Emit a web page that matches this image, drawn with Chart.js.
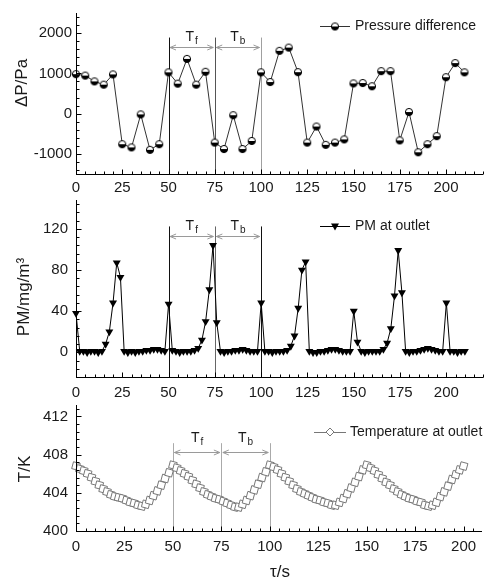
<!DOCTYPE html>
<html>
<head>
<meta charset="utf-8">
<script src="https://cdn.jsdelivr.net/npm/chart.js@4.4.0/dist/chart.umd.min.js"></script>
<style>
  html, body { margin: 0; padding: 0; background: #fff; }
  #wrap { position: relative; width: 488px; height: 584px; }
  canvas { position: absolute; left: 0; top: 0; }
</style>
</head>
<body>
<div id="wrap">
  <canvas id="c1" width="488" height="584"></canvas>
  <canvas id="c2" width="488" height="584"></canvas>
  <canvas id="c3" width="488" height="584"></canvas>
</div>
<script>
// ---- data ----
var pressureTimes = [0,5,10,15,20,25,30,35,40,45,50,55,60,65,70,75,80,85,90,95,100,
  105,110,115,120,125,130,135,140,145,150,155,160,165,170,175,180,185,190,195,200,205,210];
var pressureValues = [980,945,800,720,975,-760,-840,-20,-900,-760,1025,745,1360,720,1040,-720,-880,-40,-880,-680,1025,
  785,1560,1640,1030,-720,-320,-775,-720,-640,750,760,680,1055,1055,-665,40,-960,-760,-560,905,1255,1025];

var pmTimes = [0,2,4,6,8,10,12,14,16,18,20,22,24,26,28,30,32,34,36,38,40,42,44,46,48,50,52,54,56,58,
  60,62,64,66,68,70,72,74,76,78,80,82,84,86,88,90,92,94,96,98,100,102,104,106,108,110,112,114,116,118,
  120,122,124,126,128,130,132,134,136,138,140,142,144,146,148,150,152,154,156,158,160,162,164,166,168,170,
  172,174,176,178,180,182,184,186,188,190,192,194,196,198,200,202,204,206,208,210];
var pmValues = [38,1,1,0,1,1,0,1,8,20,
  48,87,73,1,0,1,0,1,1,2,
  2,3,3,2,1,47,2,1,0,1,
  1,1,2,4,12,30,61,104,29,1,
  0,1,1,2,2,3,2,1,1,1,
  48,1,1,0,1,1,1,2,6,16,
  43,80,88,1,0,0,1,1,2,3,
  3,2,1,1,1,40,10,1,0,1,
  1,1,1,3,9,23,55,99,58,1,
  0,1,1,2,3,4,3,2,1,1,
  48,1,1,0,1,1];

var tempTimes = pmTimes.slice(0, 101);
var tempValues = [406.8,406.5,406.3,406.0,405.6,405.2,404.8,404.4,404.1,403.8,
  403.6,403.5,403.4,403.2,403.0,402.9,402.7,402.6,402.8,403.2,
  403.7,404.2,404.8,405.5,406.1,406.9,406.6,406.3,406.0,405.7,
  405.3,404.9,404.5,404.1,403.8,403.6,403.4,403.3,403.1,402.9,
  402.7,402.5,402.5,402.8,403.2,403.7,404.3,404.9,405.6,406.2,
  406.9,406.7,406.4,406.0,405.6,405.2,404.8,404.4,404.1,403.9,
  403.7,403.5,403.3,403.2,403.0,402.9,402.7,402.7,403.0,403.4,
  403.9,404.5,405.1,405.7,406.4,406.9,406.6,406.3,405.9,405.5,
  405.1,404.8,404.4,404.1,403.8,403.6,403.4,403.3,403.1,403.0,
  402.7,402.6,402.7,403.0,403.6,404.1,404.7,405.4,405.9,406.4,
  406.8];

var xTickValues = [0,25,50,75,100,125,150,175,200];
var pressureTicks = [-1000,0,1000,2000];
var pmTicks = [0,40,80,120];
var tempTicks = [400,404,408,412];
var periodTimes = [50,75,100];
var periodNames = [['T','f'],['T','b']];

var FONT = "'Liberation Sans', Arial, sans-serif";

function pts(xs, ys) {
  return xs.map(function (t, i) { return { x: t, y: ys[i] }; });
}

// half filled circle marker
function halfDot(r) {
  var c = document.createElement('canvas');
  var s = Math.ceil(r * 2 + 2);
  c.width = s; c.height = s;
  var g = c.getContext('2d');
  var m = s / 2;
  g.beginPath(); g.arc(m, m, r, Math.PI, 2 * Math.PI); g.closePath();
  g.fillStyle = '#fff'; g.fill();
  g.beginPath(); g.arc(m, m, r, 0, Math.PI); g.closePath();
  g.fillStyle = '#000'; g.fill();
  g.beginPath(); g.arc(m, m, r, 0, 2 * Math.PI);
  g.strokeStyle = '#000'; g.lineWidth = 1; g.stroke();
  return c;
}
var dot = halfDot(3.6);

function seg(ctx, x1, y1, x2, y2) {
  ctx.beginPath(); ctx.moveTo(x1, y1); ctx.lineTo(x2, y2); ctx.stroke();
}

var decor = {
  id: 'decor',
  beforeDatasetsDraw: function (chart, args, o) {
    var ctx = chart.ctx, xs = chart.scales.x, ys = chart.scales.y, a = chart.chartArea;
    ctx.save();
    ctx.lineWidth = 1;
    periodTimes.forEach(function (t, i) {
      var px = Math.round(xs.getPixelForValue(t)) + 0.5;
      ctx.strokeStyle = o.lineColors[i];
      seg(ctx, px, ys.getPixelForValue(o.lineTop), px, a.bottom);
    });
    var ay = Math.round(ys.getPixelForValue(o.arrowY)) + 0.5;
    var ly = ys.getPixelForValue(o.labelY);
    for (var i = 0; i < periodTimes.length - 1; i++) {
      var x1 = xs.getPixelForValue(periodTimes[i]) + 1.5;
      var x2 = xs.getPixelForValue(periodTimes[i + 1]) - 1.5;
      ctx.strokeStyle = '#9a9a9a';
      seg(ctx, x1, ay, x2, ay);
      ctx.beginPath();
      ctx.moveTo(x1 + 6, ay - 2.5); ctx.lineTo(x1, ay); ctx.lineTo(x1 + 6, ay + 2.5);
      ctx.moveTo(x2 - 6, ay - 2.5); ctx.lineTo(x2, ay); ctx.lineTo(x2 - 6, ay + 2.5);
      ctx.stroke();
      var mid = (x1 + x2) / 2;
      ctx.fillStyle = '#1a1a1a';
      ctx.textBaseline = 'middle';
      ctx.font = '14px ' + FONT;
      var w1 = ctx.measureText(periodNames[i][0]).width;
      ctx.font = '10px ' + FONT;
      var w2 = ctx.measureText(periodNames[i][1]).width;
      var sx = mid - (w1 + w2 + 1) / 2;
      ctx.textAlign = 'left';
      ctx.font = '14px ' + FONT;
      ctx.fillText(periodNames[i][0], sx, ly);
      ctx.font = '10px ' + FONT;
      ctx.fillText(periodNames[i][1], sx + w1 + 1, ly + 4);
    }
    ctx.restore();
  },
  afterDraw: function (chart, args, o) {
    var ctx = chart.ctx, xs = chart.scales.x, ys = chart.scales.y, a = chart.chartArea;
    ctx.save();
    ctx.strokeStyle = '#000';
    ctx.lineWidth = 1;
    var L = Math.round(a.left) + 0.5, B = Math.round(a.bottom) + 0.5;
    seg(ctx, L, a.top, L, B);
    seg(ctx, a.left, B, a.right, B);
    // x ticks, inward
    for (var v = 0; v <= xs.max + 1e-6; v += 5) {
      var px = Math.round(xs.getPixelForValue(v)) + 0.5;
      seg(ctx, px, B, px, B - (v % 25 === 0 ? 5 : 3));
    }
    // y ticks, inward
    var base = o.yMajor[0], step = o.yMinor;
    var start = base - Math.floor((base - ys.min) / step + 1e-6) * step;
    for (var k = 0; start + k * step <= ys.max + 1e-6; k++) {
      var val = start + k * step;
      var py = Math.round(ys.getPixelForValue(val)) + 0.5;
      var n = Math.round((val - base) / step);
      seg(ctx, L, py, L + (n % o.yPer === 0 ? 5 : 3), py);
    }
    // legend
    var lg = o.legend;
    ctx.strokeStyle = lg.lineColor;
    seg(ctx, lg.x0, lg.y + 0.5, lg.x1, lg.y + 0.5);
    var cx = (lg.x0 + lg.x1) / 2;
    if (lg.marker === 'dot') {
      ctx.drawImage(dot, cx - dot.width / 2, lg.y - dot.height / 2 + 0.5);
    } else if (lg.marker === 'tri') {
      ctx.fillStyle = '#000';
      ctx.beginPath();
      ctx.moveTo(cx - 4, lg.y - 2.5); ctx.lineTo(cx + 4, lg.y - 2.5); ctx.lineTo(cx, lg.y + 4.5);
      ctx.closePath(); ctx.fill();
    } else {
      ctx.fillStyle = '#fff'; ctx.strokeStyle = '#777';
      ctx.beginPath();
      ctx.moveTo(cx, lg.y - 4); ctx.lineTo(cx + 4, lg.y); ctx.lineTo(cx, lg.y + 4); ctx.lineTo(cx - 4, lg.y);
      ctx.closePath(); ctx.fill(); ctx.stroke();
    }
    ctx.fillStyle = '#1a1a1a';
    ctx.font = '14px ' + FONT;
    ctx.textAlign = 'left';
    ctx.textBaseline = 'middle';
    ctx.fillText(lg.text, lg.textX, lg.y);
    // axis titles
    ctx.font = '17px ' + FONT;
    ctx.textAlign = 'center';
    ctx.save();
    ctx.translate(o.yTitle.x, o.yTitle.y);
    ctx.rotate(-Math.PI / 2);
    ctx.fillText(o.yTitle.text, 0, 0);
    ctx.restore();
    if (o.xTitle) ctx.fillText(o.xTitle.text, o.xTitle.x, o.xTitle.y);
    ctx.restore();
  }
};

function plain(v) { return String(v); }

function makePanel(id, p) {
  return new Chart(document.getElementById(id), {
    type: 'line',
    data: { datasets: [p.dataset] },
    plugins: [decor],
    options: {
      responsive: false,
      animation: false,
      devicePixelRatio: 1,
      events: [],
      layout: { padding: { top: p.top, bottom: 584 - p.bottom - p.xH, left: 0, right: 0 } },
      scales: {
        x: {
          type: 'linear', min: 0, max: p.xMax,
          grid: { display: false, drawTicks: false, tickLength: 0 }, border: { display: false },
          afterFit: function (s) { s.height = p.xH; },
          afterBuildTicks: function (s) { s.ticks = xTickValues.map(function (v) { return { value: v }; }); },
          ticks: { padding: p.xPad, color: '#1a1a1a', font: { family: FONT, size: 15 }, maxRotation: 0, autoSkip: false, callback: plain }
        },
        y: {
          type: 'linear', min: p.yMin, max: p.yMax,
          grid: { display: false, drawTicks: false, tickLength: 0 }, border: { display: false },
          afterFit: function (s) { s.width = 76; },
          afterBuildTicks: function (s) { s.ticks = p.yTicks.map(function (v) { return { value: v }; }); },
          ticks: { padding: p.yPad, color: '#1a1a1a', font: { family: FONT, size: 15 }, callback: plain }
        }
      },
      plugins: {
        legend: { display: false },
        tooltip: { enabled: false },
        decor: p.decor
      }
    }
  });
}

makePanel('c1', {
  top: 8, bottom: 174, xH: 32, xMax: 220, yMin: -1500, yMax: 2500, yTicks: pressureTicks, xPad: 4.5, yPad: 4,
  dataset: {
    data: pts(pressureTimes, pressureValues), borderColor: '#333', borderWidth: 1,
    pointStyle: dot, pointRadius: 4, tension: 0, clip: false
  },
  decor: {
    lineColors: ['#111', '#555', '#a0a0a0'], lineTop: 1890, arrowY: 1650, labelY: 1900,
    yMajor: pressureTicks, yMinor: 200, yPer: 5,
    legend: { x0: 320, x1: 350, y: 26, textX: 355, text: 'Pressure difference', marker: 'dot', lineColor: '#333' },
    yTitle: { text: '\u0394P/Pa', x: 22, y: 83 }
  }
});

makePanel('c2', {
  top: 200, bottom: 377, xH: 32, xMax: 220, yMin: -24, yMax: 148, yTicks: pmTicks, xPad: 7, yPad: 8,
  dataset: {
    data: pts(pmTimes, pmValues), borderColor: '#000', borderWidth: 1, backgroundColor: '#000',
    pointStyle: 'triangle', pointRotation: 180, pointRadius: 4.6, pointBorderWidth: 0, tension: 0, clip: false
  },
  decor: {
    lineColors: ['#111', '#666', '#111'], lineTop: 122.3, arrowY: 113.3, labelY: 122.7,
    yMajor: pmTicks, yMinor: 8, yPer: 5,
    legend: { x0: 320, x1: 350, y: 226, textX: 355, text: 'PM at outlet', marker: 'tri', lineColor: '#000' },
    yTitle: { text: 'PM/mg/m\u00b3', x: 24, y: 297 }
  }
});

makePanel('c3', {
  top: 405, bottom: 531, xH: 53, xMax: 209.5, yMin: 400, yMax: 413.2, yTicks: tempTicks, xPad: 6.5, yPad: 8,
  dataset: {
    data: pts(tempTimes, tempValues), borderColor: '#8a8a8a', borderWidth: 1, backgroundColor: '#fff',
    pointStyle: 'rect', pointRotation: 15, pointRadius: 5, pointBorderColor: '#777', pointBorderWidth: 1,
    tension: 0, clip: false
  },
  decor: {
    lineColors: ['#aaa', '#aaa', '#aaa'], lineTop: 409.2, arrowY: 408.3, labelY: 409.7,
    yMajor: tempTicks, yMinor: 0.8, yPer: 5,
    legend: { x0: 314, x1: 346, y: 432, textX: 350, text: 'Temperature at outlet', marker: 'dia', lineColor: '#777' },
    yTitle: { text: 'T/K', x: 25, y: 469 },
    xTitle: { text: '\u03c4/s', x: 280, y: 572 }
  }
});
</script>
</body>
</html>
